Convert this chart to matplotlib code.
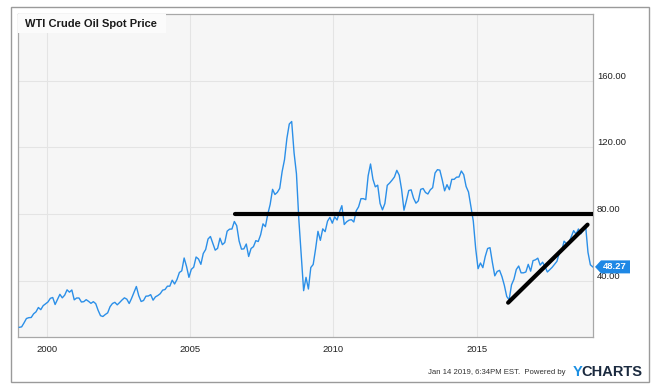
import matplotlib
matplotlib.use("Agg")
import matplotlib.pyplot as plt
import numpy as np
from matplotlib.patches import Rectangle, Polygon
from matplotlib.transforms import blended_transform_factory, IdentityTransform

plt.rcParams['font.family'] = ['Liberation Sans', 'DejaVu Sans']

# ---------------- data (monthly WTI spot, USD/bbl) ----------------
p1999 = [12.0, 12.3, 14.7, 17.3, 17.8, 17.9, 20.1, 21.3, 23.9, 22.6, 25.0, 26.1]
p2000 = [27.2, 29.4, 29.9, 25.7, 28.8, 31.8, 29.7, 31.3, 34.5, 33.1, 34.4, 28.5]
p2001 = [29.6, 29.6, 27.2, 27.4, 28.6, 27.6, 26.4, 27.4, 26.2, 22.2, 19.0, 18.5]
p2002 = [19.7, 20.7, 24.4, 26.3, 27.0, 25.5, 26.9, 28.4, 29.7, 28.9, 26.3, 29.4]
p2003 = [32.9, 36.5, 31.0, 27.5, 28.1, 30.7, 30.8, 31.6, 28.3, 30.3, 31.1, 32.2]
p2004 = [34.3, 34.7, 36.7, 36.7, 40.3, 38.0, 40.7, 44.9, 45.9, 53.6, 48.5, 42.0]
p2005 = [46.8, 48.1, 54.2, 53.0, 49.8, 56.3, 58.7, 65.0, 66.5, 62.4, 58.3, 59.4]
p2006 = [65.5, 61.6, 62.9, 69.7, 70.9, 71.0, 75.5, 73.0, 63.8, 58.9, 59.1, 62.0]
p2007 = [54.5, 59.3, 60.4, 64.0, 63.5, 67.5, 74.1, 72.4, 79.9, 85.8, 94.8, 91.7]
p2008 = [93.0, 95.4, 105.4, 112.6, 125.4, 134.0, 135.5, 116.7, 104.1, 76.6, 55.0, 34.0]
p2009 = [42.0, 35.0, 47.9, 49.7, 59.0, 69.6, 64.2, 71.1, 69.4, 75.7, 78.0, 74.5]
p2010 = [78.3, 76.4, 81.2, 85.0, 73.7, 75.3, 76.3, 76.6, 75.2, 81.9, 84.3, 89.2]
p2011 = [89.2, 88.6, 102.9, 110.0, 100.9, 96.3, 97.3, 86.3, 82.5, 86.3, 97.2, 98.6]
p2012 = [100.3, 102.2, 106.2, 103.3, 94.7, 82.3, 87.9, 94.1, 94.5, 89.5, 86.5, 87.9]
p2013 = [94.8, 95.3, 92.9, 92.0, 94.5, 95.8, 104.6, 106.6, 106.3, 100.5, 93.9, 97.6]
p2014 = [94.6, 100.8, 100.8, 102.1, 102.2, 105.8, 103.6, 96.5, 93.2, 84.4, 75.8, 59.3]
p2015 = [47.2, 50.6, 47.8, 54.5, 59.3, 59.8, 50.9, 42.9, 45.5, 46.2, 42.4, 37.2]
p2016 = [30.5, 28.5, 37.5, 40.8, 46.7, 48.8, 44.7, 44.7, 45.2, 49.8, 45.7, 52.0]
p2017 = [52.5, 53.5, 49.3, 51.1, 48.5, 45.2, 46.6, 48.0, 49.8, 51.6, 56.6, 57.9]
p2018 = [63.7, 62.2, 62.7, 66.3, 70.0, 67.9, 71.0, 68.1, 70.2, 73.0, 57.0, 49.5]
p2019 = [48.27]

yearly = [(1999, p1999), (2000, p2000), (2001, p2001), (2002, p2002), (2003, p2003),
          (2004, p2004), (2005, p2005), (2006, p2006), (2007, p2007), (2008, p2008),
          (2009, p2009), (2010, p2010), (2011, p2011), (2012, p2012), (2013, p2013),
          (2014, p2014), (2015, p2015), (2016, p2016), (2017, p2017), (2018, p2018),
          (2019, p2019)]

last_value = 48.27

# drawn annotation lines
resistance_level = 80.0
resistance_x = [2006.57, 2019.05]
trend_x = [2016.09, 2018.86]
trend_y = [26.8, 73.6]

x_ticks = [2000, 2005, 2010, 2015]
x_labels = ["2000", "2005", "2010", "2015"]
y_ticks = [40, 80, 120, 160]
y_labels = ["40.00", "80.00", "120.00", "160.00"]

dates = []
prices = []
for yr, vals in yearly:
    for m, v in enumerate(vals):
        dates.append(yr + (m + 0.5) / 12.0)
        prices.append(v)
dates = np.array(dates)
prices = np.array(prices)

# ---------------- figure ----------------
W, H = 659, 387
fig = plt.figure(figsize=(W / 100, H / 100), dpi=100)
fig.patch.set_facecolor("white")

def fx(px):
    return px / W

def fy(py):
    return 1 - py / H

L, R, T, B = 17.5, 593, 13.5, 337
ax = fig.add_axes([fx(L), fy(B), fx(R) - fx(L), fy(T) - fy(B)])
ax.set_facecolor("#f6f6f6")

ax.plot(dates, prices, color="#2b8fe8", lw=1.0, zorder=3)
ax.plot(resistance_x, [resistance_level, resistance_level], color="black", lw=3.0,
        solid_capstyle="round", zorder=4)
ax.plot(trend_x, trend_y, color="black", lw=3.0, solid_capstyle="round", zorder=4)

ax.set_xlim(1998.98, 2019.05)
ax.set_ylim(6.2, 200.3)

ax.set_xticks(x_ticks)
ax.set_xticklabels(x_labels)
ax.set_yticks(y_ticks)
ax.set_yticklabels(y_labels)
ax.yaxis.tick_right()
ax.tick_params(axis="both", length=0, labelsize=6.8, labelcolor="#222222")
ax.tick_params(axis="x", pad=5.5)
ax.tick_params(axis="y", pad=2.8)
for lbl in ax.get_yticklabels():
    lbl.set_va("bottom")

ax.grid(True, color="#e4e4e4", lw=0.8, zorder=0)
ax.set_axisbelow(True)
for s in ax.spines.values():
    s.set_color("#a8a8a8")
    s.set_linewidth(0.9)

# title box
fig.add_artist(Rectangle((L + 0.5, H - 33), 148, 19, transform=IdentityTransform(),
                         facecolor="#fbfbfb", edgecolor="none", zorder=2))
fig.text(25, H - 24, "WTI Crude Oil Spot Price", transform=IdentityTransform(),
         fontsize=8, fontweight="bold", color="#1a1a1a", va="center", ha="left", zorder=3)

# last value flag
bt = blended_transform_factory(ax.transAxes, ax.transData)
xd, yd = bt.transform((1.0, last_value))
flag = Polygon([(xd + 2, yd), (xd + 8, yd + 6.5), (xd + 37, yd + 6.5),
                (xd + 37, yd - 6.5), (xd + 8, yd - 6.5)], closed=True,
               transform=IdentityTransform(), facecolor="#1e88e5", edgecolor="none", zorder=5)
fig.add_artist(flag)
fig.text(xd + 22, yd, f"{last_value:.2f}", transform=IdentityTransform(), fontsize=6.8,
         fontweight="bold", color="white", ha="center", va="center", zorder=6)

# footer
fig.canvas.draw()
renderer = fig.canvas.get_renderer()
t_charts = fig.text(642, H - 372, "CHARTS", transform=IdentityTransform(), fontsize=10.5,
                    fontweight="bold", color="#1b2a3f", ha="right", va="center")
ext = t_charts.get_window_extent(renderer)
fig.text(ext.x0 + 1.0, H - 372, "Y", transform=IdentityTransform(), fontsize=10.5,
         fontweight="bold", color="#1a8fe3", ha="right", va="center")
fig.text(565, H - 372.5, "Jan 14 2019, 6:34PM EST.  Powered by", transform=IdentityTransform(),
         fontsize=5.6, color="#333333", ha="right", va="center")

# outer frame
fig.add_artist(Rectangle((10.5, H - 382), 638.5, 375, transform=IdentityTransform(),
                         fill=False, edgecolor="#9a9a9a", lw=1.0))

fig.savefig("out.png", dpi=100)
